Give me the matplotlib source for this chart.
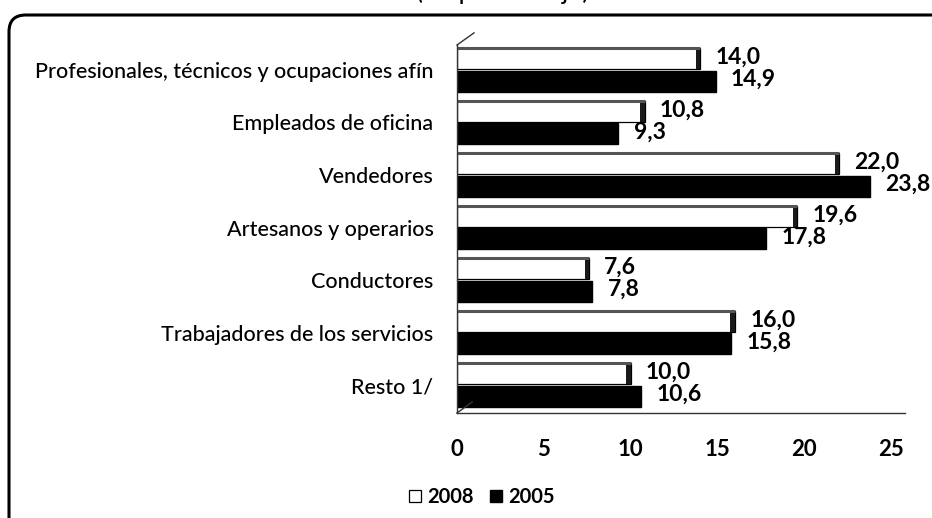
import matplotlib
matplotlib.use('Agg')
import matplotlib.pyplot as plt
from matplotlib.patches import FancyBboxPatch
import numpy as np

# ocupaciones y porcentajes por año
categorias = ['Profesionales, técnicos y ocupaciones afín', 'Empleados de oficina',
              'Vendedores', 'Artesanos y operarios', 'Conductores',
              'Trabajadores de los servicios', 'Resto 1/']
valores_2008 = [14.0, 10.8, 22.0, 19.6, 7.6, 16.0, 10.0]
valores_2005 = [14.9, 9.3, 23.8, 17.8, 7.8, 15.8, 10.6]
ticks_x = [0, 5, 10, 15, 20, 25]

plt.rcParams['font.family'] = ['Lato', 'DejaVu Sans']

fig = plt.figure(figsize=(9.32, 5.18), dpi=100)
ax = fig.add_axes([457 / 932, 1 - 413 / 518, 448 / 932, 368 / 518])

y = np.arange(len(categorias))
alto = 0.4
desp = 0.21
v08 = np.array(valores_2008)
v05 = np.array(valores_2005)

ax.barh(y - desp, v08, height=alto, color='white', edgecolor='black', linewidth=0.9, label='2008')
# cara lateral y superior de las barras blancas (efecto 3D)
lado = 0.25
ax.barh(y - desp, lado, left=v08 - lado, height=alto, color='#1a1a1a', linewidth=0)
ax.hlines(y - desp - alto / 2, 0, v08, color='#555555', linewidth=2.2)
ax.barh(y + desp, v05, height=alto, color='black', edgecolor='black', label='2005')

for yy, v in zip(y - desp, v08):
    ax.annotate(f'{v:.1f}'.replace('.', ','), (v, yy), xytext=(11, 1), textcoords='offset points',
                ha='left', va='center', fontsize=16.5, fontweight='bold', annotation_clip=False)
for yy, v in zip(y + desp, v05):
    ax.annotate(f'{v:.1f}'.replace('.', ','), (v, yy), xytext=(11, 1), textcoords='offset points',
                ha='left', va='center', fontsize=16.5, fontweight='bold', annotation_clip=False)

ax.set_xlim(0, 25.8)
ax.set_ylim(6.533, -0.476)
ax.set_xticks(ticks_x)
ax.set_xticklabels([str(t) for t in ticks_x], fontsize=16, fontweight='bold')
ax.set_yticks(y)
ax.set_yticklabels(categorias, fontsize=15.5, fontweight='medium')
ax.tick_params(axis='x', length=0, pad=19)
ax.tick_params(axis='y', length=0, pad=17)
for s in ['top', 'right']:
    ax.spines[s].set_visible(False)
for s in ['left', 'bottom']:
    ax.spines[s].set_color('#333333')
    ax.spines[s].set_linewidth(1.0)

# esquinas en perspectiva
ax.plot([0, 0.038], [1, 1.033], transform=ax.transAxes, color='#333333', lw=1.0, clip_on=False)
ax.plot([0, 0.034], [0, 0.03], transform=ax.transAxes, color='#333333', lw=1.0, clip_on=False)

fig.legend(loc='center', bbox_to_anchor=(482 / 932, 1 - 497 / 518), ncol=2, frameon=False,
           handlelength=0.6, handleheight=0.6, handletextpad=0.3, columnspacing=0.8,
           prop={'size': 14.5, 'weight': 'bold'})

# marco redondeado del gráfico
marco = FancyBboxPatch((9 / 932, -0.1), 1.1, 1.1 - 15 / 518,
                       boxstyle='round,pad=0,rounding_size=0.018', mutation_aspect=932 / 518,
                       transform=fig.transFigure, fill=False, lw=2.2, ec='black')
fig.add_artist(marco)

fig.text(503 / 932, 1 + 1 / 518, '(en porcentaje)', ha='center', va='baseline', fontsize=19)

fig.savefig('out.png', dpi=100)
